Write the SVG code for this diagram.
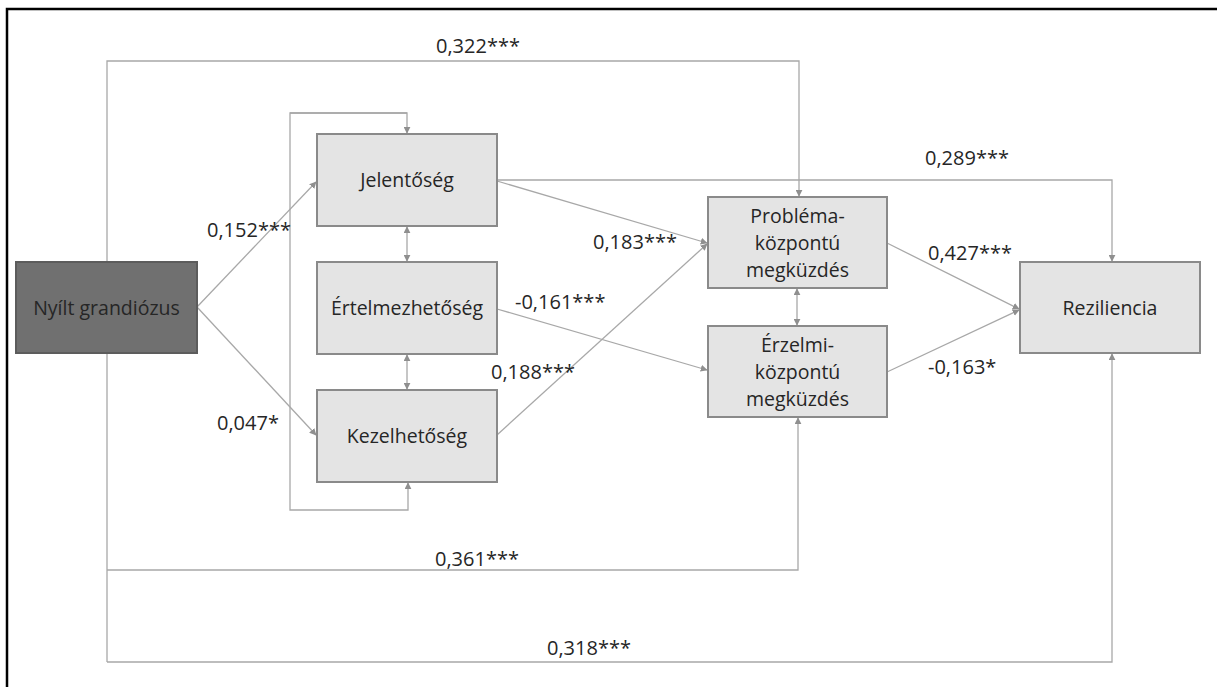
<svg xmlns="http://www.w3.org/2000/svg" width="1217" height="687" viewBox="0 0 1217 687">
<style>
.box{fill:#e4e4e4;stroke:#8a8a8a;stroke-width:2}
.dark{fill:#707070;stroke:#5c5c5c;stroke-width:2}
.t{font-family:"Open Sans","Liberation Sans",sans-serif;font-size:19.5px;fill:#262626;text-anchor:middle}
.l{font-family:"Open Sans","Liberation Sans",sans-serif;font-size:20px;fill:#262626}
.c{fill:none;stroke:#a8a8a8;stroke-width:1.3}
</style>
<defs>
<marker id="ah" viewBox="0 0 10 10" refX="9" refY="5" markerWidth="7" markerHeight="7" markerUnits="userSpaceOnUse" orient="auto-start-reverse">
<path d="M0,0 L10,5 L0,10 z" fill="#8f8f8f"/>
</marker>
</defs>
<rect width="1217" height="687" fill="#ffffff"/>
<path d="M7,690 L7,9 L1220,9" fill="none" stroke="#000" stroke-width="2.5"/>
<g id="connectors">
<path class="c" d="M107,662 L107,61 L799,61 L799,196" marker-end="url(#ah)"/>
<path class="c" d="M107,570 L798,570 L798,418" marker-end="url(#ah)"/>
<path class="c" d="M107,662 L1112,662 L1112,354" marker-end="url(#ah)"/>
<path class="c" d="M407,113 L290,113 L290,510 L408,510 L408,483" marker-end="url(#ah)"/>
<path class="c" d="M290,113 L407,113 L407,133" marker-end="url(#ah)"/>
<path class="c" d="M407,227 L407,261" marker-start="url(#ah)" marker-end="url(#ah)"/>
<path class="c" d="M407,355 L407,389" marker-start="url(#ah)" marker-end="url(#ah)"/>
<path class="c" d="M797,289 L797,325" marker-start="url(#ah)" marker-end="url(#ah)"/>
<path class="c" d="M197,307 L316,182" marker-end="url(#ah)"/>
<path class="c" d="M197,307 L316,435" marker-end="url(#ah)"/>
<path class="c" d="M497,181 L707,243" marker-end="url(#ah)"/>
<path class="c" d="M497,180 L1112,180 L1112,261" marker-end="url(#ah)"/>
<path class="c" d="M497,309 L707,370" marker-end="url(#ah)"/>
<path class="c" d="M497,435 L707,244" marker-end="url(#ah)"/>
<path class="c" d="M887,243 L1019,309" marker-end="url(#ah)"/>
<path class="c" d="M887,372 L1019,310" marker-end="url(#ah)"/>
</g>
<g id="labels">
<text class="l" x="436" y="53">0,322***</text>
<text class="l" x="925" y="165">0,289***</text>
<text class="l" x="207" y="237">0,152***</text>
<text class="l" x="593" y="249">0,183***</text>
<text class="l" x="928" y="260">0,427***</text>
<text class="l" x="515" y="309">-0,161***</text>
<text class="l" x="491" y="379">0,188***</text>
<text class="l" x="217" y="430">0,047*</text>
<text class="l" x="928" y="374">-0,163*</text>
<text class="l" x="435" y="566">0,361***</text>
<text class="l" x="547" y="655">0,318***</text>
</g>
<g id="nyilt"><rect class="dark" x="16" y="262" width="181" height="91"/><text class="t" x="106.5" y="315">Nyílt grandiózus</text></g>
<g id="jelentoseg"><rect class="box" x="317" y="134" width="180" height="92"/><text class="t" x="407" y="187">Jelentőség</text></g>
<g id="ertelmezhetoseg"><rect class="box" x="317" y="262" width="180" height="92"/><text class="t" x="407" y="315">Értelmezhetőség</text></g>
<g id="kezelhetoseg"><rect class="box" x="317" y="390" width="180" height="92"/><text class="t" x="407" y="443">Kezelhetőség</text></g>
<g id="problema"><rect class="box" x="708" y="197" width="179" height="91"/><text class="t" x="797.5" y="223">Probléma-</text><text class="t" x="797.5" y="250">központú</text><text class="t" x="797.5" y="277">megküzdés</text></g>
<g id="erzelmi"><rect class="box" x="708" y="326" width="179" height="91"/><text class="t" x="797.5" y="352">Érzelmi-</text><text class="t" x="797.5" y="379">központú</text><text class="t" x="797.5" y="406">megküzdés</text></g>
<g id="reziliencia"><rect class="box" x="1020" y="262" width="180" height="91"/><text class="t" x="1110" y="315">Reziliencia</text></g>
</svg>
